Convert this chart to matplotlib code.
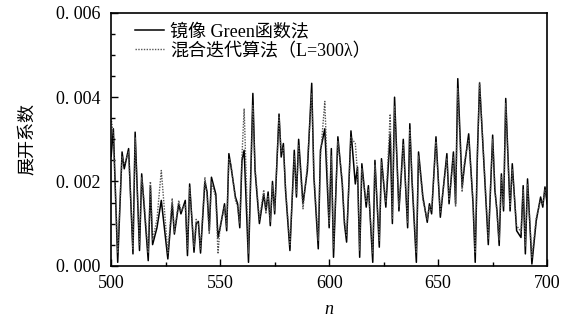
import matplotlib
matplotlib.use("Agg")
import matplotlib.pyplot as plt
from matplotlib.ticker import MultipleLocator

# expansion coefficients (x1e-3)
n = [500, 501, 503, 505, 506, 508, 510, 511, 513, 514, 515, 517, 518, 519, 521, 523,
     526, 528, 529, 531, 532, 534, 535, 536, 538, 539, 540, 541, 543, 544, 545, 546,
     548, 549, 550, 552, 553, 554, 555, 557, 558, 559, 560, 561, 563, 565, 566, 568,
     570, 571, 572, 573, 574, 575, 577, 578, 579, 580, 582, 584, 585, 586, 588, 590,
     592, 593, 595, 596, 598, 600, 601, 602, 604, 606, 607, 608, 610, 612, 613, 614,
     615, 617, 618, 620, 621, 623, 624, 626, 628, 629, 630, 632, 633, 634, 636, 637,
     638, 640, 641, 643, 645, 646, 647, 649, 651, 654, 655, 657, 658, 659, 661, 662,
     664, 666, 667, 668, 669, 672, 673, 675, 676, 677, 678, 679, 680, 681, 682, 683,
     684, 686, 688, 689, 690, 691, 693, 695, 697, 698, 699, 700]

green = [2.60, 3.25, 0.08, 2.70, 2.30, 2.78, 0.28, 3.17, 0.36, 2.18, 1.50, 0.12, 1.90, 0.50, 0.90, 1.55,
         0.16, 1.47, 0.75, 1.47, 1.23, 1.55, 0.24, 1.94, 0.32, 1.00, 1.05, 0.30, 2.00, 1.75, 0.83, 2.10,
         1.70, 0.67, 0.90, 1.47, 0.83, 2.66, 2.34, 1.63, 1.47, 0.90, 2.50, 2.74, 0.08, 4.09, 2.26, 1.00,
         1.70, 1.30, 1.75, 0.95, 2.00, 1.23, 3.60, 2.58, 2.90, 1.78, 0.36, 2.74, 1.63, 3.00, 1.47, 2.26,
         4.33, 2.10, 0.40, 2.74, 3.25, 0.90, 2.78, 0.20, 3.06, 1.94, 1.00, 0.56, 3.20, 1.94, 2.34, 0.20,
         2.42, 1.39, 1.90, 0.08, 2.50, 0.44, 2.54, 1.39, 3.13, 1.00, 4.00, 1.30, 2.10, 3.00, 0.90, 3.37,
         2.02, 0.08, 2.70, 1.63, 1.03, 1.47, 1.23, 3.06, 1.15, 2.66, 1.47, 2.70, 1.47, 4.44, 1.87, 2.34,
         3.13, 1.47, 0.08, 2.66, 4.33, 1.47, 0.50, 3.10, 1.80, 1.30, 0.48, 2.18, 1.30, 3.97, 2.66, 1.30,
         2.42, 0.83, 0.67, 1.90, 0.28, 2.06, 0.04, 1.07, 1.63, 1.39, 1.87, 1.47]

hybrid = [3.50, 3.10, 0.30, 2.60, 2.40, 2.70, 0.40, 3.05, 0.50, 2.10, 1.60, 0.30, 2.00, 0.60, 1.10, 2.26,
          0.30, 1.60, 0.80, 1.55, 1.30, 1.45, 0.40, 1.85, 0.45, 1.10, 1.00, 0.40, 2.10, 1.65, 0.75, 2.00,
          1.60, 0.28, 0.95, 1.40, 0.90, 2.55, 2.40, 1.55, 1.40, 1.00, 2.60, 3.73, 0.30, 3.80, 2.35, 1.10,
          1.80, 1.25, 1.65, 1.05, 1.90, 1.30, 3.55, 2.70, 2.80, 1.85, 0.50, 2.60, 1.70, 2.85, 1.35, 2.40,
          4.10, 2.20, 0.60, 2.60, 3.90, 1.00, 2.60, 0.40, 2.95, 2.05, 1.10, 0.70, 3.05, 2.90, 2.20, 0.35,
          2.30, 1.50, 1.80, 0.30, 2.40, 0.60, 2.45, 1.50, 3.60, 1.10, 3.80, 1.40, 2.00, 2.90, 1.00, 3.25,
          2.10, 0.30, 2.60, 1.55, 1.10, 1.40, 1.30, 2.95, 1.25, 2.55, 1.55, 2.60, 1.40, 4.20, 1.75, 2.45,
          3.00, 1.55, 0.30, 2.55, 4.35, 1.55, 0.65, 3.00, 1.90, 1.20, 0.60, 2.10, 1.40, 3.85, 2.55, 1.40,
          2.30, 0.95, 0.80, 1.80, 0.45, 1.95, 0.20, 1.15, 1.55, 1.45, 1.80, 1.55]

y_ticks = [0.0, 0.002, 0.004, 0.006]
y_tick_labels = ["0. 000", "0. 002", "0. 004", "0. 006"]
x_ticks = [500, 550, 600, 650, 700]

plt.rcParams['font.family'] = ['Liberation Serif', 'Noto Sans CJK SC']

fig = plt.figure(figsize=(5.79, 3.24), dpi=100)
ax = fig.add_axes([0.192, 0.180, 0.753, 0.780])

green_v = [v / 1000 for v in green]
hybrid_v = [v / 1000 for v in hybrid]
ax.plot(n, green_v, color='black', lw=1.1, label='镜像 Green函数法')
ax.plot(n, hybrid_v, color='#555555', lw=1.0, ls=(0, (1, 1)), label='混合迭代算法（L=300λ）')

ax.set_xlim(500, 700)
ax.set_ylim(0, 0.006)
ax.set_xticks(x_ticks)
ax.xaxis.set_minor_locator(MultipleLocator(25))
ax.set_yticks(y_ticks)
ax.set_yticklabels(y_tick_labels)
ax.yaxis.set_minor_locator(MultipleLocator(0.0005))
ax.tick_params(which='both', direction='in', top=False, right=False, labelsize=13)
ax.tick_params(axis='x', which='major', pad=7)
ax.tick_params(axis='y', which='major', pad=8)
ax.tick_params(which='major', length=5, width=1)
ax.tick_params(which='minor', length=3, width=1)
for s in ax.spines.values():
    s.set_linewidth(1.2)

ax.set_xlabel('n', fontsize=13, style='italic', labelpad=6)
ax.set_ylabel('展开系数', fontsize=13, labelpad=14)

ax.legend(loc='upper left', frameon=False, fontsize=13, handlelength=1.6,
          handletextpad=0.35, labelspacing=0.1, borderaxespad=0.2,
          bbox_to_anchor=(0.03, 1.0))

fig.savefig('out.png', dpi=100)
